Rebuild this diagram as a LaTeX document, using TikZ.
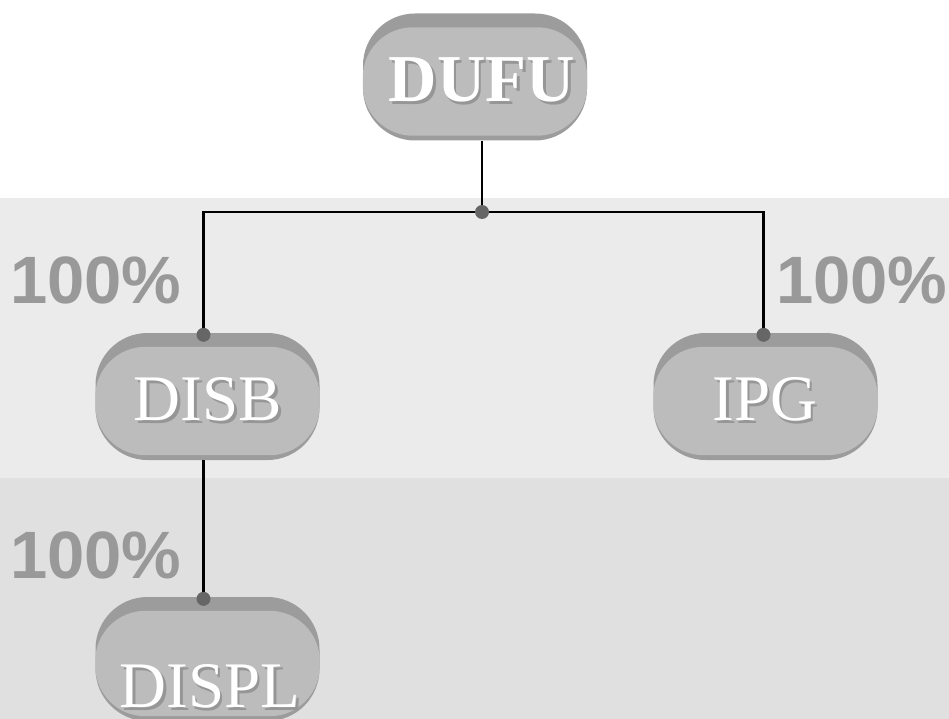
\documentclass[tikz,border=0pt]{standalone}
\usepackage{fontspec}
\setmainfont{Liberation Serif}
\newfontfamily\pctfont{Liberation Sans}
\definecolor{bandA}{RGB}{235,235,235}
\definecolor{bandB}{RGB}{224,224,224}
\definecolor{outerc}{RGB}{156,156,156}
\definecolor{facec}{RGB}{188,188,188}
\definecolor{shadc}{RGB}{150,150,150}
\definecolor{dotc}{RGB}{102,102,102}
\definecolor{pctc}{RGB}{153,153,153}
\newcommand{\shadowed}[1]{\makebox[0pt][l]{\hspace{2.5pt}\raisebox{-3pt}{\textcolor{shadc}{#1}}}\textcolor{white}{#1}}
\tikzset{
  boxshape/.style={fill=outerc, rounded corners=52pt, minimum width=224pt, minimum height=127pt, inner sep=0pt},
  lbl/.style={font=\fontsize{65}{65}\selectfont, anchor=base, inner sep=0pt},
  pct/.style={text=pctc, font=\pctfont\bfseries\fontsize{67}{67}\selectfont, anchor=base west, inner sep=0pt},
  conn/.style={line width=2.4pt, black},
  jdot/.style={fill=dotc, draw=none}
}
\newcommand{\facefill}[1]{%
  \fill[facec, rounded corners=50pt] ([yshift=-14pt]#1.north west) rectangle ([yshift=5pt]#1.south east);}
\begin{document}
\begin{tikzpicture}[x=1pt,y=-1pt]
\useasboundingbox (0,0) rectangle (949,719);
\fill[white] (0,0) rectangle (949,198);
\fill[bandA] (0,198) rectangle (949,478);
\fill[bandB] (0,478) rectangle (949,719);
\coordinate (junc) at (482,212);
% boxes
\node[boxshape] (dufu) at (475,77) {};
\node[boxshape] (disb) at (207.5,396.5) {};
\node[boxshape] (ipg) at (765.5,396.5) {};
\node[boxshape, minimum height=124pt] (displ) at (207.5,659) {};
% connectors
\draw[conn] (junc |- dufu.south) -- (junc);
\draw[conn] ([xshift=-4pt]disb.north) |- (junc) -| ([xshift=-2pt]ipg.north);
\draw[conn] ([xshift=-4pt]disb.south) -- ([xshift=-4pt]displ.north);
\facefill{dufu}
\facefill{disb}
\facefill{ipg}
\facefill{displ}
% dots
\fill[jdot] (junc) circle (7pt);
\fill[jdot] ([xshift=-4pt,yshift=-2pt]disb.north) circle (7pt);
\fill[jdot] ([xshift=-2pt,yshift=-2pt]ipg.north) circle (7pt);
\fill[jdot] ([xshift=-4pt,yshift=-2pt]displ.north) circle (7pt);
% labels
\node[lbl, font=\bfseries\fontsize{67}{67}\selectfont] (tdufu) at (482,102) {\shadowed{DUFU}};
\node[lbl] (tdisb) at (208,420) {\shadowed{DISB}};
\node[lbl] (tipg) at (765,420) {\shadowed{IPG}};
\node[lbl] (tdispl) at (210,707) {\shadowed{DISPL}};
% percentages
\node[pct] (p1) at (10,303) {100\%};
\node[pct] (p2) at (776,303) {100\%};
\node[pct] (p3) at (10,578) {100\%};
\end{tikzpicture}
\end{document}
